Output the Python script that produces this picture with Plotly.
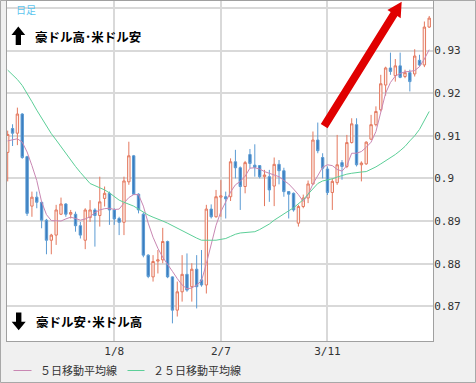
import math
import plotly.graph_objects as go

# ---- data ----
open_ = [0.9061, 0.9117, 0.9106, 0.9151, 0.9051, 0.8935, 0.8956, 0.8944, 0.8902, 0.8855,
         0.8867, 0.8916, 0.8940, 0.8916, 0.8916, 0.8889, 0.8855, 0.8908, 0.8926, 0.8913,
         0.8953, 0.8965, 0.8926, 0.8906, 0.8897, 0.8992, 0.9053, 0.8963, 0.8916, 0.8820,
         0.8769, 0.8806, 0.8809, 0.8852, 0.8769, 0.8691, 0.8734, 0.8775, 0.8746, 0.8787,
         0.8762, 0.8750, 0.8928, 0.8910, 0.8956, 0.8957, 0.8957, 0.9039, 0.9025, 0.8981,
         0.9056, 0.9031, 0.9030, 0.9004, 0.9004, 0.8982, 0.9033, 0.9018, 0.8969, 0.8965,
         0.8895, 0.8934, 0.8954, 0.8987, 0.9090, 0.9049, 0.9022, 0.8967, 0.8990, 0.9037,
         0.9028, 0.9084, 0.9126, 0.9032, 0.9034, 0.9092, 0.9126, 0.9161, 0.9219, 0.9259,
         0.9241, 0.9264, 0.9239, 0.9248, 0.9245, 0.9277, 0.9266, 0.9355]
high = [0.9112, 0.9127, 0.9166, 0.9153, 0.9053, 0.8969, 0.8969, 0.8945, 0.8905, 0.8870,
        0.8938, 0.8955, 0.8942, 0.8926, 0.8922, 0.8898, 0.8930, 0.8949, 0.8930, 0.9004,
        0.8981, 0.8969, 0.8930, 0.8910, 0.9004, 0.9086, 0.9055, 0.8965, 0.8920, 0.8822,
        0.8820, 0.8832, 0.8884, 0.8854, 0.8770, 0.8758, 0.8820, 0.8824, 0.8801, 0.8820,
        0.8832, 0.8938, 0.8939, 0.8973, 0.8996, 0.8969, 0.9047, 0.9067, 0.9028, 0.9041,
        0.9069, 0.9080, 0.9031, 0.9020, 0.9020, 0.9049, 0.9043, 0.9025, 0.8970, 0.8967,
        0.8938, 0.8962, 0.8995, 0.9110, 0.9131, 0.9059, 0.9028, 0.9000, 0.9102, 0.9043,
        0.9102, 0.9141, 0.9141, 0.9040, 0.9087, 0.9149, 0.9169, 0.9243, 0.9262, 0.9295,
        0.9280, 0.9295, 0.9255, 0.9255, 0.9303, 0.9290, 0.9368, 0.9381]
low = [0.8993, 0.9076, 0.9078, 0.9046, 0.8912, 0.8910, 0.8930, 0.8883, 0.8822, 0.8822,
       0.8844, 0.8914, 0.8910, 0.8906, 0.8875, 0.8859, 0.8834, 0.8898, 0.8840, 0.8887,
       0.8934, 0.8891, 0.8891, 0.8867, 0.8867, 0.8985, 0.8961, 0.8918, 0.8815, 0.8766,
       0.8758, 0.8777, 0.8801, 0.8766, 0.8660, 0.8676, 0.8711, 0.8734, 0.8711, 0.8695,
       0.8746, 0.8730, 0.8906, 0.8908, 0.8910, 0.8906, 0.8947, 0.9000, 0.8926, 0.8965,
       0.9024, 0.9004, 0.9000, 0.8935, 0.8945, 0.8935, 0.8986, 0.8957, 0.8906, 0.8922,
       0.8887, 0.8930, 0.8942, 0.8985, 0.9059, 0.9000, 0.8961, 0.8926, 0.8985, 0.8997,
       0.9024, 0.9082, 0.9028, 0.8993, 0.9032, 0.9090, 0.9122, 0.9157, 0.9194, 0.9243,
       0.9227, 0.9235, 0.9235, 0.9204, 0.9239, 0.9262, 0.9261, 0.9353]
close = [0.9103, 0.9106, 0.9151, 0.9049, 0.8918, 0.8956, 0.8944, 0.8902, 0.8855, 0.8867,
         0.8926, 0.8940, 0.8916, 0.8920, 0.8889, 0.8867, 0.8926, 0.8926, 0.8913, 0.8945,
         0.8965, 0.8926, 0.8905, 0.8897, 0.8994, 0.9053, 0.8963, 0.8926, 0.8820, 0.8770,
         0.8805, 0.8809, 0.8852, 0.8769, 0.8691, 0.8734, 0.8775, 0.8738, 0.8787, 0.8746,
         0.8750, 0.8928, 0.8910, 0.8957, 0.8959, 0.8952, 0.9039, 0.9025, 0.8981, 0.9037,
         0.9035, 0.9026, 0.9004, 0.9008, 0.8973, 0.9033, 0.9018, 0.8969, 0.8963, 0.8926,
         0.8934, 0.8954, 0.8987, 0.9090, 0.9065, 0.9024, 0.8967, 0.8993, 0.9032, 0.9028,
         0.9084, 0.9128, 0.9032, 0.9036, 0.9085, 0.9126, 0.9157, 0.9222, 0.9259, 0.9251,
         0.9264, 0.9237, 0.9248, 0.9227, 0.9287, 0.9266, 0.9355, 0.9376]
ma5 = [0.9088, 0.9090, 0.9093, 0.9085, 0.9062, 0.9030, 0.8995, 0.8945, 0.8915, 0.8901,
       0.8900, 0.8900, 0.8905, 0.8909, 0.8906, 0.8902, 0.8905, 0.8910, 0.8920, 0.8926,
       0.8929, 0.8930, 0.8927, 0.8928, 0.8942, 0.8955, 0.8962, 0.8962, 0.8935, 0.8895,
       0.8862, 0.8836, 0.8815, 0.8797, 0.8782, 0.8765, 0.8750, 0.8741, 0.8743, 0.8750,
       0.8760, 0.8800, 0.8845, 0.8890, 0.8922, 0.8945, 0.8968, 0.8985, 0.8993, 0.9005,
       0.9024, 0.9025, 0.9022, 0.9016, 0.9012, 0.9009, 0.9004, 0.8995, 0.8987, 0.8975,
       0.8962, 0.8946, 0.8962, 0.8987, 0.9008, 0.9026, 0.9032, 0.9030, 0.9021, 0.9017,
       0.9030, 0.9059, 0.9059, 0.9063, 0.9073, 0.9085, 0.9110, 0.9155, 0.9200, 0.9225,
       0.9240, 0.9246, 0.9250, 0.9251, 0.9253, 0.9262, 0.9280, 0.9302]
ma25 = [0.9254, 0.9244, 0.9232, 0.9218, 0.9200, 0.9180, 0.9160, 0.9141, 0.9122, 0.9105,
        0.9090, 0.9074, 0.9058, 0.9042, 0.9028, 0.9014, 0.9000, 0.8988, 0.8983, 0.8978,
        0.8973, 0.8966, 0.8957, 0.8949, 0.8944, 0.8940, 0.8935, 0.8928, 0.8920, 0.8914,
        0.8909, 0.8905, 0.8900, 0.8895, 0.8889, 0.8883, 0.8878, 0.8872, 0.8866, 0.8860,
        0.8855, 0.8855, 0.8855, 0.8855, 0.8857, 0.8859, 0.8864, 0.8869, 0.8872, 0.8873,
        0.8874, 0.8875, 0.8880, 0.8886, 0.8893, 0.8902, 0.8910, 0.8917, 0.8924, 0.8931,
        0.8940, 0.8950, 0.8963, 0.8976, 0.8988, 0.8994, 0.8996, 0.8999, 0.9003, 0.9007,
        0.9010, 0.9012, 0.9014, 0.9015, 0.9016, 0.9021, 0.9027, 0.9034, 0.9041, 0.9048,
        0.9056, 0.9065, 0.9075, 0.9088, 0.9100, 0.9115, 0.9135, 0.9157]
x_tick_pos = [22, 44, 66]
x_tick_labels = ["1/8", "2/7", "3/11"]
y_tick_vals = [0.87, 0.88, 0.89, 0.90, 0.91, 0.92, 0.93, 0.94]
y_tick_text = ["0.87", "0.88", "0.89", "0.9", "0.91", "0.92", "0.93", ""]
legend_names = ["５日移動平均線", "２５日移動平均線"]

xs = list(range(len(close)))

# ---- pixel helpers for decorations ----
W, H = 476, 383
PL, PR, PT, PB = 7, 433, 1, 341


def px(x):
    return (x - PL) / (PR - PL)


def py(y):
    return (PB - y) / (PB - PT)


def poly(points):
    return "M " + " L ".join(f"{px(a):.5f},{py(b):.5f}" for a, b in points) + " Z"


MA5_COLOR = "#c987b3"
MA25_COLOR = "#5ccf98"

fig = go.Figure()
fig.add_trace(go.Candlestick(
    x=xs, open=open_, high=high, low=low, close=close,
    increasing=dict(line=dict(color="#e4785e", width=1), fillcolor="#fdf1ed"),
    decreasing=dict(line=dict(color="#5b9bd3", width=1), fillcolor="#3b7dbf"),
    whiskerwidth=0, showlegend=False, hoverinfo="skip",
))
fig.add_trace(go.Scatter(x=xs, y=ma5, mode="lines", line=dict(color=MA5_COLOR, width=1),
                         showlegend=False, hoverinfo="skip"))
fig.add_trace(go.Scatter(x=xs, y=ma25, mode="lines", line=dict(color=MA25_COLOR, width=1),
                         showlegend=False, hoverinfo="skip"))

shapes = []
# outer frame of the whole picture
shapes.append(dict(type="rect", xref="paper", yref="paper",
                   x0=px(0.5), x1=px(W - 0.5), y0=py(H - 0.5), y1=py(0.5),
                   line=dict(color="#a8a8a8", width=1), layer="below"))
# black up arrow
shapes.append(dict(type="path", xref="paper", yref="paper",
                   path=poly([(18.3, 26.5), (25.2, 35), (21.0, 35), (21.0, 45),
                              (15.7, 45), (15.7, 35), (11.5, 35)]),
                   fillcolor="#000000", line=dict(width=0)))
# black down arrow
shapes.append(dict(type="path", xref="paper", yref="paper",
                   path=poly([(16.0, 312.5), (21.4, 312.5), (21.4, 321.7), (25.7, 321.7),
                              (18.7, 330.3), (11.7, 321.7), (16.0, 321.7)]),
                   fillcolor="#000000", line=dict(width=0)))
# red arrow
T = (324.2, 126.2)
P = (401.7, 1.7)
L = math.hypot(P[0] - T[0], P[1] - T[1])
d = ((P[0] - T[0]) / L, (P[1] - T[1]) / L)
n = (-d[1], d[0])
hl, hw, sw = 14.5, 7.8, 4.0
B = (P[0] - hl * d[0], P[1] - hl * d[1])
pts = [(T[0] + sw * n[0], T[1] + sw * n[1]), (B[0] + sw * n[0], B[1] + sw * n[1]),
       (B[0] + hw * n[0], B[1] + hw * n[1]), P,
       (B[0] - hw * n[0], B[1] - hw * n[1]), (B[0] - sw * n[0], B[1] - sw * n[1]),
       (T[0] - sw * n[0], T[1] - sw * n[1])]
shapes.append(dict(type="path", xref="paper", yref="paper", path=poly(pts),
                   fillcolor="#e00000", line=dict(width=0)))
# legend swatches
shapes.append(dict(type="line", xref="paper", yref="paper", x0=px(13.5), x1=px(31.5),
                   y0=py(370.5), y1=py(370.5), line=dict(color=MA5_COLOR, width=1)))
shapes.append(dict(type="line", xref="paper", yref="paper", x0=px(127.5), x1=px(144.5),
                   y0=py(370.5), y1=py(370.5), line=dict(color=MA25_COLOR, width=1)))

JP = "Noto Sans CJK JP"
ann = []
ann.append(dict(text="日足", xref="paper", yref="paper", x=px(14), y=py(9.5),
                xanchor="left", yanchor="middle", showarrow=False,
                font=dict(family=JP, size=10, color="#5cc4ee")))
ann.append(dict(text="<b>豪ドル高･米ドル安</b>", xref="paper", yref="paper", x=px(32.5), y=py(36.5),
                xanchor="left", yanchor="middle", showarrow=False,
                font=dict(family=JP, size=12.5, color="#000000")))
ann.append(dict(text="<b>豪ドル安･米ドル高</b>", xref="paper", yref="paper", x=px(34), y=py(321.5),
                xanchor="left", yanchor="middle", showarrow=False,
                font=dict(family=JP, size=12.5, color="#000000")))
ann.append(dict(text=legend_names[0], xref="paper", yref="paper", x=px(37.5), y=py(370.5),
                xanchor="left", yanchor="middle", showarrow=False,
                font=dict(family=JP, size=11, color="#333333")))
ann.append(dict(text=legend_names[1], xref="paper", yref="paper", x=px(151), y=py(370.5),
                xanchor="left", yanchor="middle", showarrow=False,
                font=dict(family=JP, size=11, color="#333333")))

fig.update_layout(
    width=W, height=H,
    margin=dict(l=PL, r=W - PR, t=PT, b=H - PB, pad=0),
    paper_bgcolor="#f0f0f0", plot_bgcolor="#ffffff",
    shapes=shapes, annotations=ann,
    xaxis=dict(range=[-0.145, 87.78], tickvals=x_tick_pos, ticktext=x_tick_labels,
               showgrid=True, gridcolor="#d9d9d9", gridwidth=2, zeroline=False,
               showline=True, linecolor="#a0a0a0", linewidth=1, mirror=True,
               ticks="", rangeslider=dict(visible=False), fixedrange=True,
               tickfont=dict(family="DejaVu Sans Mono", size=11, color="#333333")),
    yaxis=dict(range=[0.86186, 0.94161], side="right", tickvals=y_tick_vals, ticktext=y_tick_text,
               showgrid=True, gridcolor="#d9d9d9", gridwidth=2, zeroline=False,
               showline=True, linecolor="#a0a0a0", linewidth=1, mirror=True,
               ticks="", fixedrange=True, ticklabelstandoff=-2,
               tickfont=dict(family="DejaVu Sans Mono", size=11, color="#333333")),
)

fig.write_html("out.html", config={"displayModeBar": False},
               post_script="document.body.style.margin='0';document.body.style.padding='0';")
